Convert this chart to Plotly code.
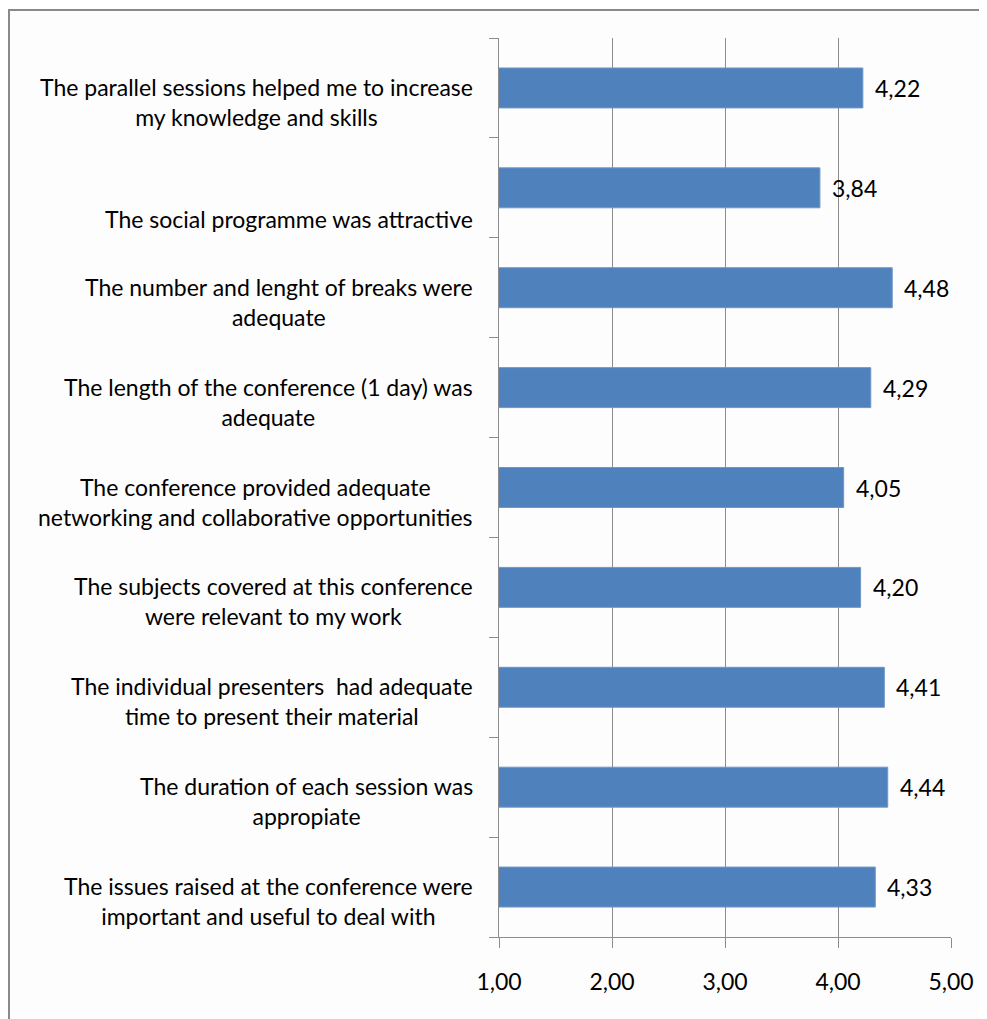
import plotly.graph_objects as go

categories = [
    "The parallel sessions helped me to increase<br>my knowledge and skills",
    "<br>The social programme was attractive",
    "The number and lenght of breaks were<br>adequate",
    "The length of the conference (1 day) was<br>adequate",
    "The conference provided adequate<br>networking and collaborative opportunities",
    "The subjects covered at this conference<br>were relevant to my work",
    "The individual presenters  had adequate<br>time to present their material",
    "The duration of each session was<br>appropiate",
    "The issues raised at the conference were<br>important and useful to deal with",
]
values = [4.22, 3.84, 4.48, 4.29, 4.05, 4.20, 4.41, 4.44, 4.33]
x_ticks = [1, 2, 3, 4, 5]
x_ticklabels = ["1,00", "2,00", "3,00", "4,00", "5,00"]

FONT = "Lato"
FS = 23
OFF = 8  # page body margin
W, H = 987 - OFF, 1019 - OFF
L, R, T, B = 499 - OFF, 951 - OFF, 38 - OFF, 937 - OFF

fig = go.Figure()
fig.add_trace(go.Bar(
    x=values, y=list(range(len(categories))), orientation="h",
    base=0, marker=dict(color="#4F81BD", line=dict(color="#6d97c9", width=1)),
    width=0.4, hoverinfo="skip",
))

annotations = []
for i, (cat, v) in enumerate(zip(categories, values)):
    lead = 0
    txt = cat
    while txt.startswith("<br>"):
        lead += 1
        txt = txt[4:]
    annotations.append(dict(
        x=(475 - OFF - L) / (R - L), xref="paper", y=i, yref="y", text=txt,
        showarrow=False, xanchor="right", yanchor="top", align="center",
        yshift=17 - 32 * lead,
        font=dict(family=FONT, size=FS, color="#000000"),
    ))
    annotations.append(dict(
        x=v, xref="x", y=i, yref="y", text=f"{v:.2f}".replace(".", ","),
        showarrow=False, xanchor="left", yanchor="middle", xshift=10,
        font=dict(family=FONT, size=FS, color="#000000"),
    ))

def px_x(p):
    return (p - OFF - L) / (R - L)

def px_y(p):
    return (B - (p - OFF)) / (B - T)

shapes = [
    dict(type="line", xref="paper", yref="paper", x0=px_x(9), x1=px_x(9),
         y0=px_y(1040), y1=px_y(10), line=dict(color="#8a8a8a", width=2)),
    dict(type="line", xref="paper", yref="paper", x0=px_x(8), x1=px_x(1000),
         y0=px_y(10), y1=px_y(10), line=dict(color="#8a8a8a", width=2)),
]

fig.update_layout(
    width=W, height=H,
    margin=dict(l=L, r=W - R, t=T, b=H - B),
    paper_bgcolor="#fdfdfd", plot_bgcolor="#fdfdfd",
    showlegend=False,
    annotations=annotations,
    shapes=shapes,
    xaxis=dict(
        range=[1, 5], tickvals=x_ticks, ticktext=x_ticklabels,
        showgrid=True, gridcolor="#8c8c8c", gridwidth=1,
        showline=True, linecolor="#8c8c8c", linewidth=1,
        ticks="outside", ticklen=10, tickcolor="#8c8c8c",
        tickfont=dict(family=FONT, size=FS, color="#000000"),
        ticklabelstandoff=14, zeroline=False, fixedrange=True,
    ),
    yaxis=dict(
        range=[len(categories) - 0.5, -0.5],
        tickvals=[i - 0.5 for i in range(len(categories) + 1)],
        showticklabels=False, showgrid=False, zeroline=False,
        showline=True, linecolor="#8c8c8c", linewidth=1,
        ticks="outside", ticklen=9, tickcolor="#8c8c8c",
    ),
)

fig.write_html("out.html")
